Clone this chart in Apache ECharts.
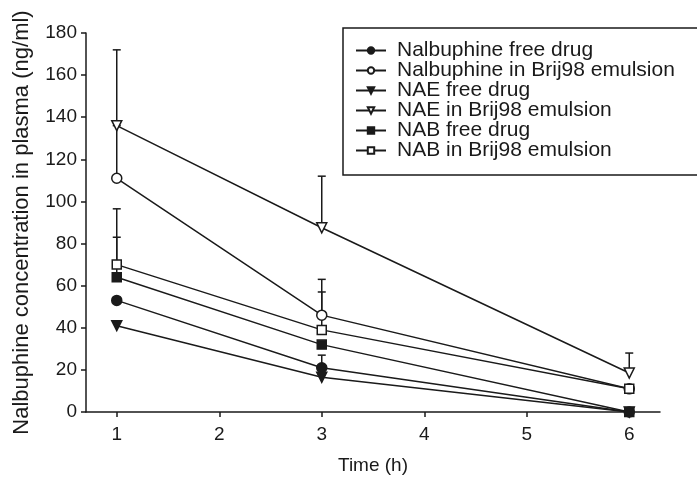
<!DOCTYPE html>
<html><head><meta charset="utf-8">
<script src="https://cdn.jsdelivr.net/npm/echarts@6/dist/echarts.min.js"></script>
<style>html,body{margin:0;padding:0;background:#fff}#c{width:697px;height:482px}</style>
</head><body><div id="c"></div>
<script>
var times = [1, 3, 6];
var seriesNames = ["Nalbuphine free drug", "Nalbuphine in Brij98 emulsion", "NAE free drug", "NAE in Brij98 emulsion", "NAB free drug", "NAB in Brij98 emulsion"];
var nalbFree = [53, 21, 0];
var nalbEmul = [111, 46, 11];
var naeFree = [41, 16.5, 0];
var naeEmul = [136, 87.5, 18.5];
var nabFree = [64, 32, 0];
var nabEmul = [70, 39, 11];
// upper error-bar ends (null = not shown)
var nalbFreeErr = [null, 27, null];
var nalbEmulErr = [136, 63, null];
var naeFreeErr = [null, null, null];
var naeEmulErr = [172, 112, 28];
var nabFreeErr = [83, null, null];
var nabEmulErr = [96.5, 57, null];
var xTicks = [1, 2, 3, 4, 5, 6];

var FONT = "Liberation Sans";
var INK = "#1a1a1a";
var symbols = ["circle", "circle", "path://M0,0 L10,0 L5,9 Z", "path://M0,0 L10,0 L5,9 Z", "rect", "rect"];
var filled = [true, false, true, false, true, false];
var vals = [nalbFree, nalbEmul, naeFree, naeEmul, nabFree, nabEmul];
var errs = [nalbFreeErr, nalbEmulErr, naeFreeErr, naeEmulErr, nabFreeErr, nabEmulErr];
var sizes = [10, 10, 10, 10, 9, 9];

var series = [];
var errData = [];
vals.forEach(function (v, i) {
  v.forEach(function (y, j) {
    if (errs[i][j] != null) errData.push([times[j], y, errs[i][j]]);
  });
});
series.push({
  type: "custom",
  silent: true,
  z: 1,
  renderItem: function (params, api) {
    var p0 = api.coord([api.value(0), api.value(1)]);
    var p1 = api.coord([api.value(0), api.value(2)]);
    var w = 4;
    return {
      type: "group",
      children: [
        { type: "line", shape: { x1: p0[0], y1: p0[1], x2: p1[0], y2: p1[1] }, style: { stroke: INK, lineWidth: 1.5 } },
        { type: "line", shape: { x1: p1[0] - w, y1: p1[1], x2: p1[0] + w, y2: p1[1] }, style: { stroke: INK, lineWidth: 1.5 } }
      ]
    };
  },
  encode: { x: 0, y: [1, 2] },
  data: errData
});
vals.forEach(function (v, i) {
  series.push({
    name: seriesNames[i],
    type: "line",
    z: 3,
    data: v.map(function (y, j) { return [times[j], y]; }),
    symbol: symbols[i],
    symbolSize: sizes[i],
    showAllSymbol: true,
    lineStyle: { color: INK, width: 1.5 },
    itemStyle: { color: filled[i] ? INK : "#fff", borderColor: INK, borderWidth: 1.5 },
    emphasis: { disabled: true },
    animation: false
  });
});

var chart = echarts.init(document.getElementById("c"), null, { renderer: "canvas" });
chart.setOption({
  backgroundColor: "#fff",
  animation: false,
  textStyle: { fontFamily: FONT, color: INK },
  grid: { left: 86, right: 37, top: 33, bottom: 70, containLabel: false },
  legend: {
    data: seriesNames,
    orient: "vertical",
    left: 343,
    top: 28,
    padding: [12, 26, 14, 12],
    itemGap: -1,
    itemWidth: 30,
    itemHeight: 8,
    borderColor: INK,
    borderWidth: 1.5,
    borderRadius: 0,
    textStyle: { fontFamily: FONT, fontSize: 21, color: INK, padding: [0, 0, 0, 6], lineHeight: 17 },
    selectedMode: false
  },
  xAxis: {
    type: "value",
    min: 0.7,
    max: 6.3,
    name: "Time (h)",
    nameLocation: "middle",
    nameGap: 44,
    nameTextStyle: { fontFamily: FONT, fontSize: 19, color: INK },
    axisLine: { lineStyle: { color: INK, width: 1.5 } },
    axisTick: { show: true, customValues: xTicks, length: 5, lineStyle: { color: INK, width: 1.5 } },
    axisLabel: { customValues: xTicks, fontFamily: FONT, fontSize: 19, color: INK, margin: 13 },
    splitLine: { show: false }
  },
  yAxis: {
    type: "value",
    min: 0,
    max: 180,
    interval: 20,
    name: "Nalbuphine concentration in plasma (ng/ml)",
    nameLocation: "middle",
    nameGap: 53,
    nameTextStyle: { fontFamily: FONT, fontSize: 22, color: INK },
    axisLine: { show: true, lineStyle: { color: INK, width: 1.5 } },
    axisTick: { show: true, length: 5, lineStyle: { color: INK, width: 1.5 } },
    axisLabel: { fontFamily: FONT, fontSize: 19, color: INK, margin: 9 },
    splitLine: { show: false }
  },
  series: series
});
</script>
</body></html>
